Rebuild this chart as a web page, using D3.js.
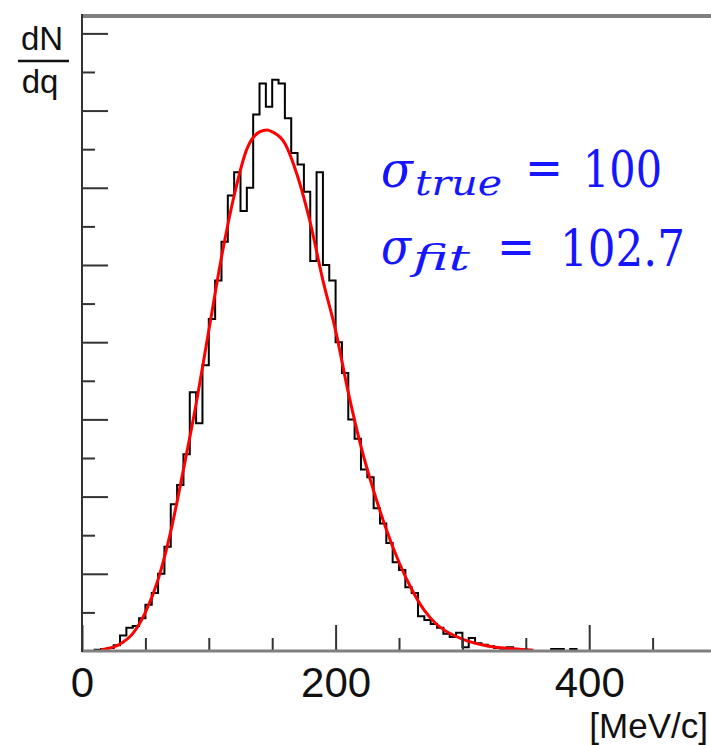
<!DOCTYPE html>
<meta charset="utf-8">
<title>dN/dq momentum distribution with fit</title>
<style>
  body { margin: 0; background: #fff; }
</style>
<svg width="711" height="745"></svg>
<script src="https://d3js.org/d3.v7.min.js"></script>
<script>

// histogram: 5 MeV/c bins starting at 0
var binWidth = 5;
var counts = [
  0, 0, 0.3, 0.5, 0.8, 1.5, 4, 6, 6.5, 8.5,
  12, 15, 20, 27, 38, 43, 51, 67, 59, 74,
  86, 96, 106, 118, 124, 114, 120, 139, 147, 141,
  148, 147, 138, 129, 126, 119, 101, 124, 100, 96,
  80, 72, 60, 55, 47, 45, 37, 33, 28, 23,
  21, 16.5, 15, 9, 8, 7, 6, 4.5, 3.6, 4.7,
  1, 3.4, 2, 1.6, 1.2, 0.8, 0.6, 1, 0.5, 0.3,
  0, 0, 0, 0, 0.5, 0.5, 0, 0.5, 0, 0
];

// fitted curve
var fitP = [15, 30, 40, 50, 60, 70, 80, 90, 100, 110, 120, 130, 140, 146, 150, 160, 170, 180,
            190, 200, 210, 220, 230, 240, 250, 260, 270, 280, 290, 300, 320, 340, 356];
var fitV = [0.3, 1.8, 4.5, 10, 18.5, 31, 47, 64, 83, 102, 118, 130, 134.5, 135, 134.5, 131.5, 123, 111,
            96, 83, 67, 53, 41.5, 31.5, 23, 16, 10.5, 6.8, 4.6, 3.1, 1.3, 0.6, 0.2];

var xMajor = [0, 200, 400];
var xMinor = [50, 100, 150, 250, 300, 350, 450];
var yMajor = [20, 40, 60, 80, 100, 120, 140, 160];
var yMinor = [10, 30, 50, 70, 90, 110, 130, 150];

var sans = "'Liberation Sans', Arial, Helvetica, sans-serif";
var serif = "'DejaVu Serif', 'Liberation Serif', serif";

var svg = d3.select("svg");

var x = d3.scaleLinear().domain([0, 500]).range([82, 716]);
var y = d3.scaleLinear().domain([0, 164.5]).range([651, 16]);

// histogram outline
var edges = counts.map(function(c, i) { return [i * binWidth, c]; });
edges.push([counts.length * binWidth, counts[counts.length - 1]]);

var step = d3.line()
    .x(function(d) { return x(d[0]); })
    .y(function(d) { return y(d[1]); })
    .curve(d3.curveStepAfter);

svg.append("path")
    .attr("d", step(edges))
    .attr("fill", "none")
    .attr("stroke", "#000")
    .attr("stroke-width", 2);

// fit curve
var fitLine = d3.line()
    .x(function(d, i) { return x(fitP[i]); })
    .y(function(d) { return y(d); })
    .curve(d3.curveMonotoneX);

svg.append("path")
    .attr("d", fitLine(fitV))
    .attr("fill", "none")
    .attr("stroke", "#ff0000")
    .attr("stroke-width", 3);

// axes: ticks point inward
var xMin = svg.append("g")
    .attr("transform", "translate(0,651)")
    .call(d3.axisBottom(x).tickValues(xMinor).tickSize(-13).tickFormat(""));

var xMaj = svg.append("g")
    .attr("transform", "translate(0,651)")
    .call(d3.axisBottom(x).tickValues(xMajor).tickSize(-26).tickPadding(16).tickFormat(d3.format("d")));

var yMin = svg.append("g")
    .attr("transform", "translate(82,0)")
    .call(d3.axisLeft(y).tickValues(yMinor).tickSize(-13).tickFormat(""));

var yMaj = svg.append("g")
    .attr("transform", "translate(82,0)")
    .call(d3.axisLeft(y).tickValues(yMajor).tickSize(-26).tickFormat(""));

[xMin, xMaj, yMin, yMaj].forEach(function(g) {
  g.select(".domain").remove();
  g.selectAll(".tick line").attr("stroke", "#333").attr("stroke-width", 2);
});

xMaj.selectAll(".tick text")
    .style("font-family", sans)
    .style("font-size", "42px")
    .attr("fill", "#111");

// frame lines
svg.append("line")
    .attr("x1", x(0)).attr("x2", 711)
    .attr("y1", 16).attr("y2", 16)
    .attr("stroke", "#808080").attr("stroke-width", 4);

svg.append("line")
    .attr("x1", x(0)).attr("x2", 711)
    .attr("y1", y(0)).attr("y2", y(0))
    .attr("stroke", "#808080").attr("stroke-width", 3);

svg.append("line")
    .attr("x1", 82).attr("x2", 82)
    .attr("y1", 14).attr("y2", 652)
    .attr("stroke", "#333").attr("stroke-width", 2);

// axis titles
svg.append("text")
    .attr("x", 708).attr("y", 738)
    .attr("text-anchor", "end")
    .style("font-family", sans)
    .style("font-size", "35px")
    .attr("fill", "#111")
    .text("[MeV/c]");

var yt = svg.append("g")
    .style("font-family", sans)
    .style("font-size", "33px")
    .attr("fill", "#111")
    .attr("text-anchor", "middle");
yt.append("text").attr("x", 42).attr("y", 50).text("dN");
yt.append("line")
    .attr("x1", 18).attr("x2", 69).attr("y1", 61).attr("y2", 61)
    .attr("stroke", "#111").attr("stroke-width", 2.5);
yt.append("text").attr("x", 40).attr("y", 93).text("dq");

// sigma annotations
var ann = svg.append("g")
    .attr("fill", "#1515ff")
    .style("font-family", serif);

function piece(txt, px, py, size, len, italic) {
  ann.append("text")
      .attr("x", px).attr("y", py)
      .style("font-size", size + "px")
      .style("font-style", italic ? "italic" : "normal")
      .attr("textLength", len)
      .attr("lengthAdjust", "spacingAndGlyphs")
      .text(txt);
}

piece("σ", 381, 187, 50, 32, true);
piece("true", 415, 195, 36, 87, true);
piece("=", 525, 185, 50, 38, false);
piece("100", 583, 187, 50, 79, false);

piece("σ", 381, 264, 50, 30, true);
piece("fit", 413, 270, 36, 57, true);
piece("=", 497, 264, 50, 38, false);
piece("102.7", 560, 266, 50, 125, false);

</script>
